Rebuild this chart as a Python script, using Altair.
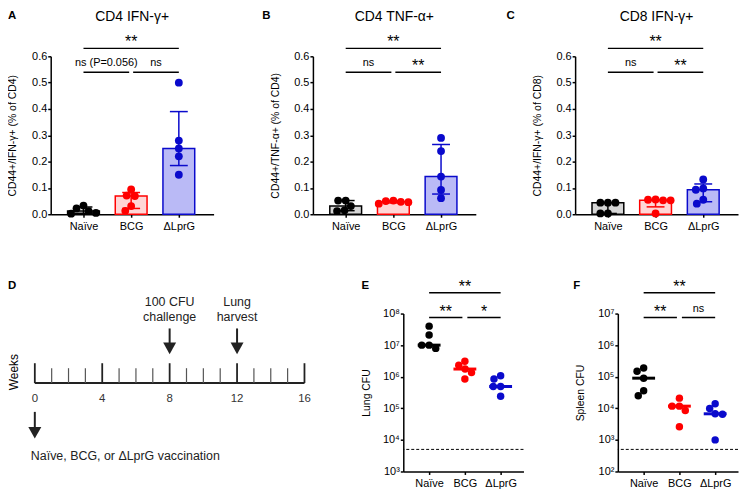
import altair as alt
import numpy as np
import pandas as pd

# ---------------- data ----------------
groups = ["Naïve", "BCG", "ΔLprG"]

a_naive = [0.033, 0.022, 0.012, 0.005, 0.002]
a_bcg = [0.094, 0.071, 0.069, 0.031, 0.013]
a_lprg = [0.50, 0.28, 0.25, 0.22, 0.15]

b_naive = [0.052, 0.052, 0.031, 0.015, 0.012]
b_bcg = [0.052, 0.050, 0.047, 0.046, 0.040]
b_lprg = [0.29, 0.24, 0.143, 0.0925, 0.061]

c_naive = [0.044, 0.044, 0.044, 0.003, 0.003]
c_bcg = [0.056, 0.055, 0.053, 0.053, 0.003]
c_lprg = [0.132, 0.098, 0.093, 0.055, 0.040]

e_naive = [4.0e7, 2.1e7, 1.0e7, 1.0e7, 7.9e6]
e_bcg = [3.1e6, 2.3e6, 1.75e6, 1.35e6, 8.5e5]
e_lprg = [1.07e6, 8.5e5, 4.9e5, 4.9e5, 2.4e5]

f_naive = [1.9e5, 1.5e5, 9.0e4, 3.6e4, 2.5e4]
f_bcg = [2.1e4, 1.17e4, 1.17e4, 8.5e3, 2.6e3]
f_lprg = [1.4e4, 9.8e3, 6.7e3, 6.5e3, 1.0e3]

lod_lung = 5000
lod_spleen = 500

sig_a = [("**", 0, 2, "top"), ("ns (P=0.056)", 0, 1, "low"), ("ns", 1, 2, "low")]
sig_b = [("**", 0, 2, "top"), ("ns", 0, 1, "low"), ("**", 1, 2, "low")]
sig_c = [("**", 0, 2, "top"), ("ns", 0, 1, "low"), ("**", 1, 2, "low")]
sig_e = [("**", 0, 2, "top"), ("**", 0, 1, "low"), ("*", 1, 2, "low")]
sig_f = [("**", 0, 2, "top"), ("**", 0, 1, "low"), ("ns", 1, 2, "low")]

weeks = list(range(0, 17))
week_labels = [0, 4, 8, 12, 16]
event_weeks = [8, 12]
event_line1 = ["100 CFU", "Lung"]
event_line2 = ["challenge", "harvest"]
vacc_week = [0]
vacc_text = ["Naïve, BCG, or ΔLprG vaccination"]

# ---------------- style / layout ----------------
FONT = "Liberation Sans, Arial, Helvetica, sans-serif"
LINE = ["#000000", "#ff0000", "#0a0acc"]
FILL = ["#d6d6d6", "#ffd6d6", "#babaf6"]

TOP_W, TOP_H = 164, 159
TOP_FIRST, TOP_STEP = 33, 48
BOT_W, BOT_H = 121, 159
BOT_FIRST, BOT_STEP = 26, 36
D_W = 260
D_RANGE = [-16, 255.5]
BAR_HALF = 16 / TOP_STEP
CAP_HALF = 9 / TOP_STEP
MED_HALF = 11.5 / BOT_STEP
GAP_TOP = 2 / TOP_STEP
GAP_BOT = 2.5 / BOT_STEP


def swarm(vals, to_px, d):
    order = sorted(range(len(vals)), key=lambda i: -vals[i])
    placed = []
    offs = [0.0] * len(vals)
    for i in order:
        y = to_px(vals[i])
        cands = [0.0]
        for px, py in placed:
            dy = abs(y - py)
            if dy < d:
                w = (d * d - dy * dy) ** 0.5
                cands += [px - w, px + w]
        cands.sort(key=lambda c: (round(abs(c), 6), c))
        for c in cands:
            if all((c - px) ** 2 + (y - py) ** 2 >= d * d - 1e-6 for px, py in placed):
                offs[i] = c
                placed.append((c, y))
                break
    return offs


def x_axis():
    expr = " : ".join(f"datum.value == {i} ? '{g}'" for i, g in enumerate(groups[:-1]))
    expr += f" : '{groups[-1]}'"
    return alt.Axis(values=[0, 1, 2], labelExpr=expr, title=None, labelPadding=3,
                    labelFlush=False, labelOverlap=False, labelBound=False)


def sig_frame(sig, gap, y_of):
    rows = []
    for label, i, j, level in sig:
        x1 = i + gap if (level == "low" and i == 1) else i
        x2 = j - gap if (level == "low" and j == 1) else j
        rows.append(dict(x1=x1, x2=x2, tx=(x1 + x2) / 2, y=y_of(level), label=label,
                         star=label.startswith("*")))
    return pd.DataFrame(rows)


def text_layer(text, x, y, size, bold=False, align="center", angle=0, baseline="alphabetic"):
    return alt.Chart(pd.DataFrame({"t": [text]})).mark_text(
        font=FONT, fontSize=size, fontWeight="bold" if bold else "normal",
        align=align, baseline=baseline, angle=angle, color="black"
    ).encode(text="t:N", x=alt.value(x), y=alt.value(y))


def sig_layers(sdf, X, Y):
    lines = alt.Chart(sdf).mark_rule(strokeWidth=1.5, color="black").encode(
        x=X("x1"), x2="x2", y=Y("y"))
    stars = alt.Chart(sdf[sdf.star]).mark_text(
        font=FONT, fontSize=16, baseline="alphabetic", dy=-1, color="black"
    ).encode(x=X("tx"), y=Y("y"), text="label:N")
    layers = [lines, stars]
    ns = sdf[~sdf.star]
    if len(ns):
        layers.append(alt.Chart(ns).mark_text(
            font=FONT, fontSize=11, baseline="alphabetic", dy=-6, color="black"
        ).encode(x=X("tx"), y=Y("y"), text="label:N"))
    return layers


def bar_panel(vals_list, title, ytitle, letter, letter_x, sig):
    ymax = 0.6
    xs = alt.Scale(domain=[-TOP_FIRST / TOP_STEP, (TOP_W - TOP_FIRST) / TOP_STEP], nice=False, zero=False)
    ys = alt.Scale(domain=[0, ymax], nice=False, zero=False)
    yaxis = alt.Axis(values=[0, 0.1, 0.2, 0.3, 0.4, 0.5, 0.6], format=".1f", title=ytitle,
                     titleX=-38, titleY=TOP_H / 2, titleAngle=270, titleAlign="center",
                     titleBaseline="middle", labelPadding=1, labelFlush=False)
    X = lambda f: alt.X(f, type="quantitative", scale=xs, axis=x_axis())
    Y = lambda f: alt.Y(f, type="quantitative", scale=ys, axis=yaxis)

    pts, st = [], []
    for gi, vals in enumerate(vals_list):
        offs = swarm(vals, lambda v: v / ymax * TOP_H, 7.6)
        for v, o in zip(vals, offs):
            pts.append(dict(x=gi + o / TOP_STEP, value=v, col=LINE[gi]))
        q1, med, q3 = np.percentile(vals, [25, 50, 75], method="weibull")
        st.append(dict(g=gi, x0=gi - BAR_HALF, x1=gi + BAR_HALF, c0=gi - CAP_HALF,
                       c1=gi + CAP_HALF, med=med, q1=q1, q3=q3, line=LINE[gi], fill=FILL[gi]))
    pts, st = pd.DataFrame(pts), pd.DataFrame(st)

    bars = alt.Chart(st).mark_bar(strokeWidth=1.5).encode(
        x=X("x0"), x2="x1", y=Y("med"), y2=alt.datum(0),
        fill=alt.Fill("fill:N", scale=None), stroke=alt.Stroke("line:N", scale=None))
    err = alt.Chart(st).mark_rule(strokeWidth=1.5).encode(
        x=X("g"), y=Y("q1"), y2="q3", color=alt.Color("line:N", scale=None))
    cap_u = alt.Chart(st).mark_rule(strokeWidth=1.5).encode(
        x=X("c0"), x2="c1", y=Y("q3"), color=alt.Color("line:N", scale=None))
    cap_l = alt.Chart(st).mark_rule(strokeWidth=1.5).encode(
        x=X("c0"), x2="c1", y=Y("q1"), color=alt.Color("line:N", scale=None))
    dots = alt.Chart(pts).mark_circle(size=62, opacity=1).encode(
        x=X("x"), y=Y("value"), color=alt.Color("col:N", scale=None))

    y_of = lambda level: ymax * (1 + 8 / TOP_H) if level == "top" else ymax * (1 - 16 / TOP_H)
    sdf = sig_frame(sig, GAP_TOP, y_of)
    layers = [bars, dots, err, cap_u, cap_l] + sig_layers(sdf, X, Y) + [
        text_layer(title, TOP_W / 2, -36, 14),
        text_layer(letter, letter_x, -38, 11.5, bold=True, align="left"),
    ]
    return alt.layer(*layers).properties(width=TOP_W, height=TOP_H)


SUP = {2: "²", 3: "³", 4: "⁴", 5: "⁵", 6: "⁶", 7: "⁷", 8: "⁸"}


def cfu_panel(vals_list, ytitle, letter, letter_x, title_x, lo, hi, lod, sig):
    xs = alt.Scale(domain=[-BOT_FIRST / BOT_STEP, (BOT_W - BOT_FIRST) / BOT_STEP], nice=False, zero=False)
    ys = alt.Scale(type="log", domain=[10 ** lo, 10 ** hi], nice=False)
    expr = " : ".join(f"round(log(datum.value)/LN10) == {k} ? '10{SUP[k]}'" for k in range(lo, hi))
    expr += f" : '10{SUP[hi]}'"
    yaxis = alt.Axis(values=[10 ** k for k in range(lo, hi + 1)], labelExpr=expr, title=ytitle,
                     titleX=title_x, titleY=BOT_H / 2, titleAngle=270, titleAlign="center",
                     titleBaseline="middle", labelPadding=1, labelFlush=False)
    X = lambda f: alt.X(f, type="quantitative", scale=xs, axis=x_axis())
    Y = lambda f: alt.Y(f, type="quantitative", scale=ys, axis=yaxis)
    dec = BOT_H / (hi - lo)

    pts, st = [], []
    for gi, vals in enumerate(vals_list):
        offs = swarm(vals, lambda v: (np.log10(v) - lo) * dec, 7.4)
        for v, o in zip(vals, offs):
            pts.append(dict(x=gi + o / BOT_STEP, value=v, col=LINE[gi]))
        st.append(dict(m0=gi - MED_HALF, m1=gi + MED_HALF, med=float(np.median(vals)), line=LINE[gi]))
    pts, st = pd.DataFrame(pts), pd.DataFrame(st)

    lod_rule = alt.Chart(pd.DataFrame({"lod": [lod]})).mark_rule(
        strokeDash=[3, 2], strokeWidth=1, color="black").encode(y=Y("lod"))
    dots = alt.Chart(pts).mark_circle(size=56, opacity=1).encode(
        x=X("x"), y=Y("value"), color=alt.Color("col:N", scale=None))
    med = alt.Chart(st).mark_rule(strokeWidth=3).encode(
        x=X("m0"), x2="m1", y=Y("med"), color=alt.Color("line:N", scale=None))

    y_of = lambda level: 10 ** (hi + 21 / dec) if level == "top" else 10 ** (hi - 4 / dec)
    sdf = sig_frame(sig, GAP_BOT, y_of)
    layers = [lod_rule, dots, med] + sig_layers(sdf, X, Y) + [
        text_layer(letter, letter_x, -25, 11.5, bold=True, align="left"),
    ]
    return alt.layer(*layers).properties(width=BOT_W, height=BOT_H)


def timeline_panel():
    ds = alt.Scale(domain=[weeks[0], weeks[-1]], range=D_RANGE, nice=False, zero=False)
    WX = lambda f: alt.X(f, type="quantitative", scale=ds, axis=None)
    wk = pd.DataFrame({"week": weeks})
    wk["major"] = wk.week.isin(week_labels)
    minor, major = wk[~wk.major], wk[wk.major]
    ev = pd.DataFrame({"week": event_weeks, "l1": event_line1, "l2": event_line2})
    vc = pd.DataFrame({"week": vacc_week, "t": vacc_text})
    ink = "#222222"
    head = "M-1,-0.9L1,-0.9L0,0.9Z"

    base = alt.Chart(pd.DataFrame({"a": [weeks[0]], "b": [weeks[-1]]})).mark_rule(
        strokeWidth=2, color=ink).encode(x=WX("a"), x2="b", y=alt.value(70))
    mt = alt.Chart(minor).mark_rule(strokeWidth=1.2, color="#555555").encode(
        x=WX("week"), y=alt.value(55), y2=alt.value(70))
    Mt = alt.Chart(major).mark_rule(strokeWidth=1.8, color=ink).encode(
        x=WX("week"), y=alt.value(50), y2=alt.value(70))
    lab = alt.Chart(major).mark_text(font=FONT, fontSize=11.5, color="#333333", baseline="middle").encode(
        x=WX("week"), y=alt.value(86), text="week:Q")
    shaft = alt.Chart(ev).mark_rule(strokeWidth=2, color=ink).encode(
        x=WX("week"), y=alt.value(15), y2=alt.value(31))
    heads = alt.Chart(ev).mark_point(shape=head, size=170, filled=True, opacity=1, color=ink, strokeWidth=0).encode(
        x=WX("week"), y=alt.value(35))
    t1 = alt.Chart(ev).mark_text(font=FONT, fontSize=12.5, color=ink, baseline="alphabetic").encode(
        x=WX("week"), y=alt.value(-8), text="l1:N")
    t2 = alt.Chart(ev).mark_text(font=FONT, fontSize=12.5, color=ink, baseline="alphabetic").encode(
        x=WX("week"), y=alt.value(7), text="l2:N")
    vshaft = alt.Chart(vc).mark_rule(strokeWidth=2, color=ink).encode(
        x=WX("week"), y=alt.value(99), y2=alt.value(116))
    vhead = alt.Chart(vc).mark_point(shape=head, size=170, filled=True, opacity=1, color=ink, strokeWidth=0).encode(
        x=WX("week"), y=alt.value(120))
    vtext = alt.Chart(vc).mark_text(font=FONT, fontSize=12.5, color=ink, align="left", dx=-4,
                                    baseline="alphabetic").encode(
        x=WX("week"), y=alt.value(147), text="t:N")
    layers = [base, mt, Mt, lab, shaft, heads, t1, t2, vshaft, vhead, vtext,
              text_layer("Weeks", -37, 59, 12, angle=270, baseline="middle"),
              text_layer("D", -43, -25, 11.5, bold=True, align="left")]
    return alt.layer(*layers).properties(width=D_W, height=BOT_H)


A = bar_panel([a_naive, a_bcg, a_lprg], "CD4 IFN-γ+", "CD44+/IFN-γ+ (% of CD4)", "A", -43, sig_a)
B = bar_panel([b_naive, b_bcg, b_lprg], "CD4 TNF-α+", "CD44+/TNF-α+ (% of CD4)", "B", -51, sig_b)
C = bar_panel([c_naive, c_bcg, c_lprg], "CD8 IFN-γ+", "CD44+/IFN-γ+ (% of CD8)", "C", -69, sig_c)
D = timeline_panel()
E = cfu_panel([e_naive, e_bcg, e_lprg], "Lung CFU", "E", -42, -37, 3, 8, lod_lung, sig_e)
F = cfu_panel([f_naive, f_bcg, f_lprg], "Spleen CFU", "F", -45, -38, 2, 7, lod_spleen, sig_f)

top_row = alt.hconcat(A, B, C, spacing=100, bounds="flush")
bot_row = alt.hconcat(D, E, F, spacing=95, bounds="flush")

chart = alt.vconcat(
    top_row, bot_row, spacing=48, bounds="full",
    padding={"left": 0, "top": 0, "right": 0, "bottom": 0},
).configure(font=FONT).configure_view(stroke=None).configure_axis(
    domainColor="black", domainWidth=1.5, tickColor="black", tickWidth=1.5, tickSize=3,
    labelColor="black", labelFont=FONT, labelFontSize=11, titleFont=FONT,
    titleFontSize=10.5, titleFontWeight="normal", titleColor="black", grid=False
)

chart.save("out.html", embed_options={"renderer": "svg", "actions": False})
